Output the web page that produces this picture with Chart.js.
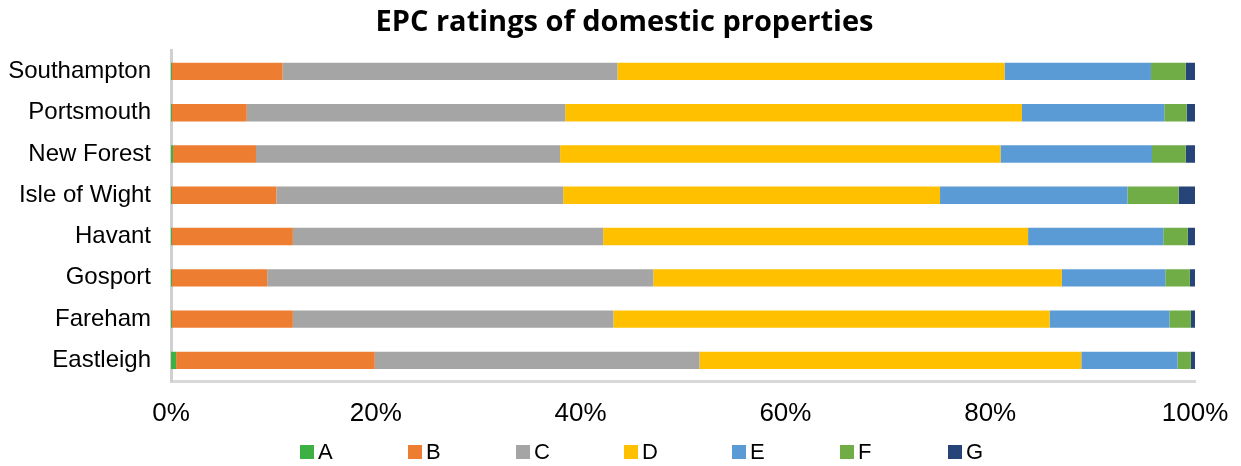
<!DOCTYPE html>
<html>
<head>
<meta charset="utf-8">
<script src="https://cdn.jsdelivr.net/npm/chart.js@4.4.0/dist/chart.umd.min.js"></script>
<style>
  html, body { margin: 0; padding: 0; background: #fff; }
  #wrap { position: relative; width: 1241px; height: 466px; }
  #legend {
    position: absolute; left: 300px; top: 439px;
    display: flex; font-family: "Liberation Sans", Arial, sans-serif;
    font-size: 22px; color: #000;
  }
  #legend .item { width: 108px; display: flex; align-items: center; }
  #legend .box { width: 14px; height: 14px; margin-right: 4px; }
</style>
</head>
<body>
<div id="wrap">
  <canvas id="epcChart" width="1241" height="466"></canvas>
  <div id="legend"></div>
</div>
<script>
Chart.defaults.animation = false;

// ---- data (percent of domestic properties per rating) ----
const areas = ["Southampton", "Portsmouth", "New Forest", "Isle of Wight", "Havant", "Gosport", "Fareham", "Eastleigh"];
const ratings = ["A", "B", "C", "D", "E", "F", "G"];
const ratingA = [0.1, 0.1, 0.2, 0.1, 0.1, 0.1, 0.1, 0.5];
const ratingB = [10.8, 7.3, 8.1, 10.2, 11.8, 9.3, 11.8, 19.4];
const ratingC = [32.7, 31.1, 29.7, 28.0, 30.3, 37.7, 31.3, 31.7];
const ratingD = [37.8, 44.6, 43.0, 36.8, 41.5, 39.9, 42.6, 37.3];
const ratingE = [14.3, 13.9, 14.8, 18.3, 13.2, 10.1, 11.7, 9.4];
const ratingF = [3.4, 2.2, 3.3, 5.0, 2.4, 2.4, 2.1, 1.3];
const ratingG = [0.9, 0.8, 0.9, 1.6, 0.7, 0.5, 0.4, 0.4];
const xTicks = [0, 20, 40, 60, 80, 100];

const colours = ["#3cb043", "#ed7d31", "#a5a5a5", "#ffc000", "#5b9bd5", "#70ad47", "#264478"];
const values = [ratingA, ratingB, ratingC, ratingD, ratingE, ratingF, ratingG];

const datasets = ratings.map((r, i) => ({
  label: r,
  data: values[i],
  backgroundColor: colours[i],
  borderWidth: 0,
  barPercentage: 0.42,
  categoryPercentage: 1
}));

new Chart(document.getElementById("epcChart"), {
  type: "bar",
  data: { labels: areas, datasets: datasets },
  options: {
    indexAxis: "y",
    responsive: false,
    // title is centred over a box shifted a little to the right
    layout: { padding: { left: 8, right: 0, top: 0, bottom: 36 } },
    plugins: {
      legend: { display: false },
      tooltip: { enabled: false },
      title: {
        display: true,
        text: "EPC ratings of domestic properties",
        color: "#000",
        font: { family: "'Open Sans', sans-serif", size: 29, weight: "bold", lineHeight: 1.2 },
        padding: { top: 5, bottom: 11 }
      }
    },
    scales: {
      x: {
        stacked: true,
        min: 0,
        max: 100,
        afterBuildTicks: (axis) => { axis.ticks = xTicks.map(v => ({ value: v })); },
        grid: { display: false, drawTicks: false },
        border: { display: true, color: "#d9d9d9", width: 3 },
        ticks: {
          color: "#000",
          font: { family: "'Liberation Sans', Arial, sans-serif", size: 26 },
          padding: 17,
          maxRotation: 0,
          callback: (v) => v + "%"
        },
        afterFit: (axis) => {
          axis.height = 49;
          axis.paddingLeft = 0;
          axis.paddingRight = 46;
        }
      },
      y: {
        stacked: true,
        grid: { display: false, drawTicks: false },
        border: { display: true, color: "#d0d0d0", width: 3 },
        ticks: { color: "#000", font: { family: "'Liberation Sans', Arial, sans-serif", size: 24 }, padding: 20 },
        afterFit: (axis) => { axis.width = 163; }
      }
    }
  }
});

// legend built from the same rating / colour arrays
const legendEl = document.getElementById("legend");
ratings.forEach((r, i) => {
  const item = document.createElement("div");
  item.className = "item";
  item.innerHTML = '<span class="box" style="background:' + colours[i] + '"></span><span>' + r + '</span>';
  legendEl.appendChild(item);
});
</script>
</body>
</html>
